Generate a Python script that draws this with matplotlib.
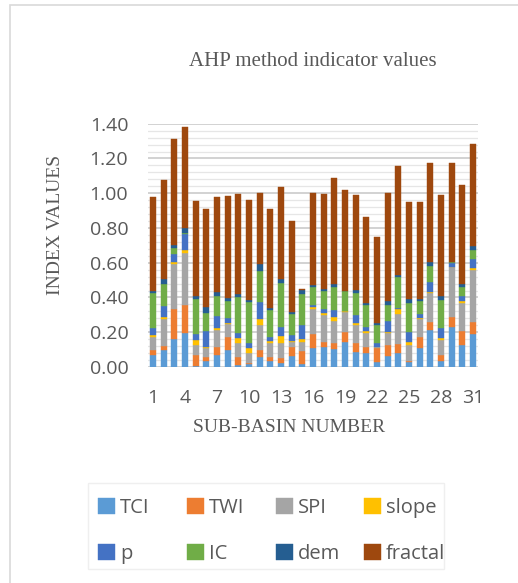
import matplotlib

matplotlib.use("Agg")
import matplotlib.pyplot as plt  # noqa: E402
from matplotlib.patches import Rectangle  # noqa: E402
from matplotlib.ticker import MultipleLocator  # noqa: E402

basins = list(range(1, 32))
tick_labels = [str(b) if (b - 1) % 3 == 0 else "" for b in basins]

tci = [0.070, 0.100, 0.163, 0.194, 0.005, 0.036, 0.069, 0.098, 0.013, 0.017,
       0.060, 0.036, 0.021, 0.063, 0.017, 0.107, 0.117, 0.102, 0.146, 0.086,
       0.082, 0.031, 0.063, 0.082, 0.031, 0.107, 0.213, 0.036, 0.228, 0.127, 0.190]
twi = [0.030, 0.020, 0.170, 0.163, 0.065, 0.024, 0.044, 0.077, 0.043, 0.008,
       0.040, 0.020, 0.029, 0.050, 0.077, 0.083, 0.029, 0.034, 0.057, 0.050,
       0.035, 0.080, 0.064, 0.048, 0.005, 0.068, 0.048, 0.033, 0.058, 0.082, 0.067]
spi = [0.075, 0.155, 0.260, 0.300, 0.058, 0.047, 0.100, 0.072, 0.080, 0.057,
       0.142, 0.080, 0.086, 0.033, 0.048, 0.146, 0.153, 0.131, 0.115, 0.106,
       0.081, 0.002, 0.071, 0.175, 0.091, 0.099, 0.163, 0.086, 0.287, 0.161, 0.301]
slope = [0.010, 0.010, 0.010, 0.015, 0.028, 0.010, 0.010, 0.008, 0.029, 0.025,
         0.032, 0.014, 0.042, 0.006, 0.017, 0.011, 0.014, 0.023, 0.004, 0.009,
         0.009, 0.002, 0.005, 0.027, 0.019, 0.006, 0.009, 0.010, 0.004, 0.010, 0.010]
p = [0.040, 0.065, 0.046, 0.092, 0.035, 0.093, 0.068, 0.025, 0.029, 0.029,
     0.102, 0.025, 0.050, 0.032, 0.083, 0.010, 0.023, 0.038, 0.003, 0.048,
     0.021, 0.023, 0.062, 0.009, 0.057, 0.023, 0.058, 0.057, 0.023, 0.029, 0.053]
ic = [0.200, 0.130, 0.033, 0.008, 0.200, 0.100, 0.120, 0.100, 0.206, 0.238,
      0.178, 0.153, 0.257, 0.121, 0.178, 0.105, 0.103, 0.134, 0.111, 0.129,
      0.129, 0.106, 0.092, 0.179, 0.163, 0.079, 0.090, 0.164, 0.002, 0.053, 0.052]
dem = [0.015, 0.025, 0.020, 0.030, 0.020, 0.033, 0.023, 0.015, 0.018, 0.011,
       0.039, 0.010, 0.019, 0.013, 0.025, 0.008, 0.010, 0.016, 0.004, 0.015,
       0.009, 0.009, 0.025, 0.010, 0.023, 0.009, 0.025, 0.023, 0.004, 0.014, 0.023]
fractal = [0.540, 0.570, 0.610, 0.580, 0.547, 0.567, 0.543, 0.590, 0.577, 0.576,
           0.410, 0.571, 0.533, 0.524, 0.005, 0.530, 0.546, 0.608, 0.578, 0.547,
           0.495, 0.493, 0.621, 0.627, 0.562, 0.560, 0.570, 0.579, 0.568, 0.571, 0.585]

series = [("TCI", tci, "#5B9BD5"), ("TWI", twi, "#ED7D31"), ("SPI", spi, "#A5A5A5"),
          ("slope", slope, "#FFC000"), ("p", p, "#4472C4"), ("IC", ic, "#70AD47"),
          ("dem", dem, "#255E91"), ("fractal", fractal, "#9E480E")]

W, H = 518, 583
TXT = "#595959"
SANS = "Open Sans"
SERIF = "Liberation Serif"

fig = plt.figure(figsize=(W / 100, H / 100), dpi=100)
ax = fig.add_axes([147.7 / W, (H - 367) / H, (478.3 - 147.7) / W, (367 - 123.7) / H])

bottom = [0.0] * len(basins)
handles = []
for name, vals, color in series:
    b = ax.bar(basins, vals, bottom=bottom, width=0.55, color=color, label=name,
               edgecolor=color, linewidth=0.3, zorder=3)
    handles.append(b)
    bottom = [bt + v for bt, v in zip(bottom, vals)]

ax.set_xlim(0.5, 31.5)
ax.set_ylim(0, 1.4)
ax.yaxis.set_minor_locator(MultipleLocator(0.04))
ax.set_yticks([i * 0.2 for i in range(8)])
ax.set_yticklabels([f"{i * 0.2:.2f}" for i in range(8)])
ax.set_xticks(basins)
ax.set_xticklabels(tick_labels)
ax.grid(axis="y", which="major", color="#cfcfcf", linewidth=1.3, zorder=0)
ax.grid(axis="y", which="minor", color="#e6e6e6", linewidth=0.9, zorder=0)
ax.tick_params(which="both", length=0, colors=TXT, labelsize=14)
ax.tick_params(axis="y", pad=14)
ax.tick_params(axis="x", pad=16)
for lab in ax.get_xticklabels() + ax.get_yticklabels():
    lab.set_fontfamily(SANS)
for s in ax.spines.values():
    s.set_visible(False)
ax.axhline(0, color="#d9d9d9", linewidth=1.0, zorder=2)

fig.text(313 / W, 1 - 62 / H, "AHP method indicator values", ha="center", va="center",
         family=SERIF, fontsize=15, color=TXT)
fig.text(55 / W, 1 - 225 / H, "INDEX VALUES", rotation=90, ha="center", va="center",
         family=SERIF, fontsize=14, color=TXT)
fig.text(289 / W, 1 - 428 / H, "SUB-BASIN NUMBER", ha="center", va="center",
         family=SERIF, fontsize=14, color=TXT)

# chart border (only left and top visible) and legend box
fig.add_artist(Rectangle((10 / W, -0.1), 1.2, 1 - 5 / H + 0.1, transform=fig.transFigure,
                         fill=False, edgecolor="#d9d9d9", linewidth=1.2))
fig.add_artist(Rectangle((88 / W, 1 - 569 / H), (444 - 88) / W, (569 - 483) / H,
                         transform=fig.transFigure, fill=False, edgecolor="#efefef",
                         linewidth=1.0))

col_x = [88, 177, 266, 354]
for j, x in enumerate(col_x):
    leg = fig.legend([handles[j], handles[j + 4]], [series[j][0], series[j + 4][0]],
                     loc="upper left", bbox_to_anchor=(x / W, 1 - 488 / H),
                     frameon=False, borderpad=0, handlelength=0.85, handleheight=0.85,
                     handletextpad=0.25, labelspacing=1.3,
                     prop={"family": SANS, "size": 14.5})
    for t in leg.get_texts():
        t.set_color(TXT)

fig.savefig("out.png", dpi=100)
